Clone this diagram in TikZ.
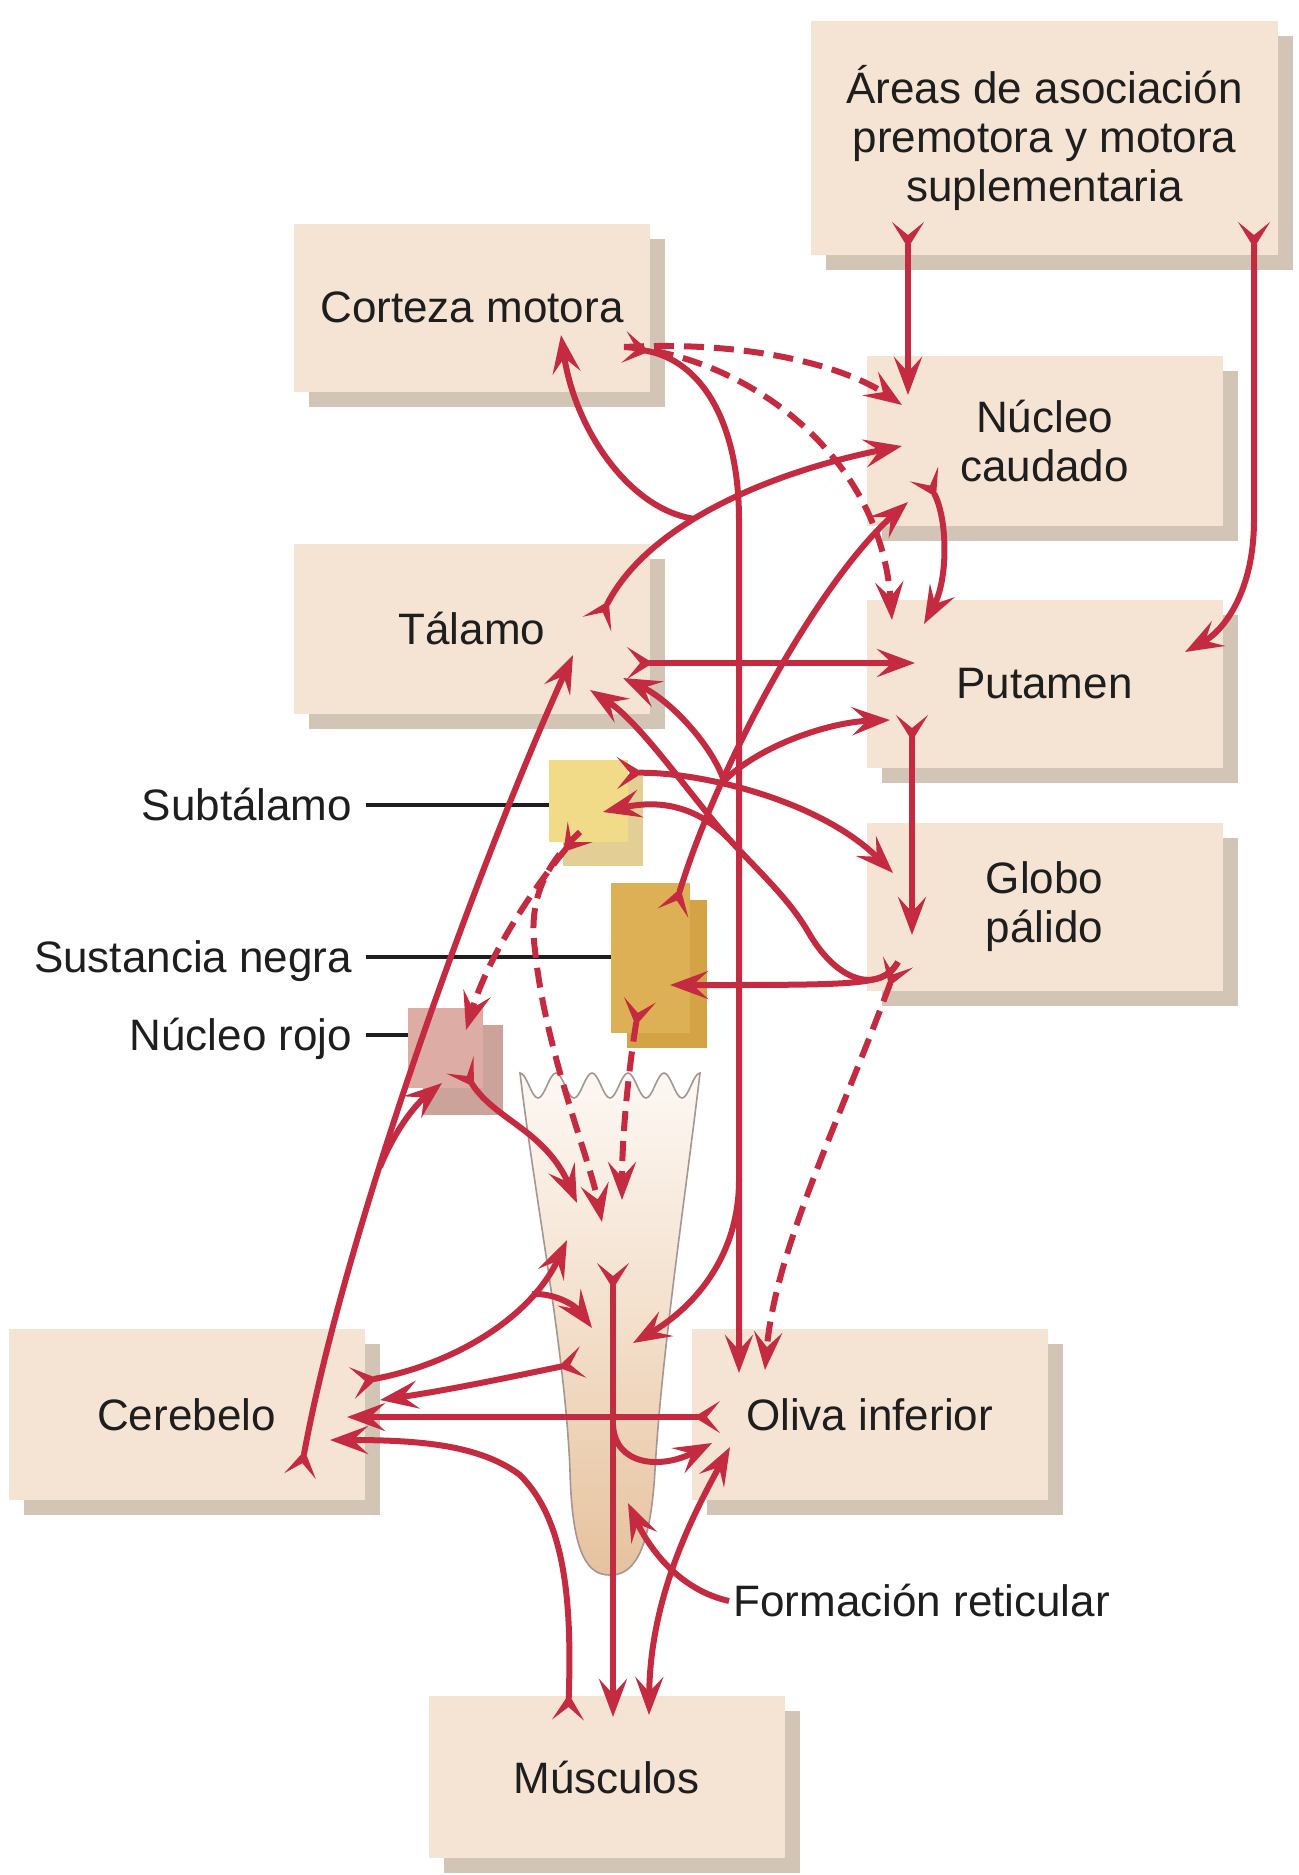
\documentclass[tikz,border=0pt]{standalone}
\usepackage{fontspec}
\setmainfont{Liberation Sans}
\usetikzlibrary{arrows.meta,shadows}
\definecolor{neuro}{HTML}{C52B40}
\definecolor{boxc}{HTML}{F5E4D4}
\definecolor{shadc}{HTML}{D3C5B6}
\definecolor{subtf}{HTML}{F1DA88}
\definecolor{subtb}{HTML}{E3CE96}
\definecolor{snf}{HTML}{DDB055}
\definecolor{snb}{HTML}{D3A346}
\definecolor{nrf}{HTML}{DDADA5}
\definecolor{nrb}{HTML}{CBA39B}
\definecolor{frtop}{HTML}{FDF8F4}
\definecolor{frmid}{HTML}{F3DFCB}
\definecolor{frbot}{HTML}{E6C29E}
\definecolor{frline}{HTML}{A89592}
\definecolor{txt}{HTML}{1E1E1E}
\newcommand\boxfont{\fontsize{22pt}{24.5pt}\selectfont}
\tikzset{
  box/.style={fill=boxc, inner sep=0pt, outer sep=0pt, minimum width=178pt, minimum height=84pt,
    align=center, text=txt, font=\boxfont,
    drop shadow={shadow xshift=7.5pt, shadow yshift=-7.5pt, fill=shadc, opacity=1}},
  sq/.style={inner sep=0pt, outer sep=0pt},
  lbl/.style={text=txt, font=\boxfont, inner sep=0pt, inner xsep=6.5pt, text height=15.8pt, text depth=0pt},
  lead/.style={draw=txt, line width=1.6pt},
  fib/.style={draw=neuro, line width=3pt, -{Stealth[length=19pt,width=14pt,inset=7.5pt]}},
  fibt/.style={fib, {Stealth[reversed,length=13pt,width=16pt,inset=6.5pt]}-{Stealth[length=19pt,width=14pt,inset=7.5pt]}},
  fibb/.style={fib, {Stealth[length=19pt,width=14pt,inset=7.5pt]}-{Stealth[length=19pt,width=14pt,inset=7.5pt]}},
  dsh/.style={dash pattern=on 10pt off 5pt},
}
\begin{document}
\begin{tikzpicture}[x=0.5pt,y=-0.5pt]
\useasboundingbox (0,0) rectangle (1299,1875);

% boxes
\node[box, minimum width=233.5pt, minimum height=117pt] (areas) at (1044.5,138) {Áreas de asociación\\premotora y motora\\suplementaria};
\node[box] (corteza) at (472,307.5) {Corteza motora};
\node[box, minimum height=85pt] (caudado) at (1044.5,441) {Núcleo\\caudado};
\node[box, minimum height=85pt] (talamo) at (472,629) {Tálamo};
\node[box] (putamen) at (1044.5,683.5) {Putamen};
\node[box] (globo) at (1044.5,906.5) {Globo\\pálido};
\node[box, minimum height=85.5pt] (cerebelo) at (186.5,1414.5) {Cerebelo};
\node[box, minimum height=85.5pt] (oliva) at (869.5,1414.5) {Oliva inferior};
\node[box, minimum height=81pt] (musculos) at (606.5,1777) {Músculos};

% brainstem
\draw[draw=frline, line width=0.8pt, top color=frtop, bottom color=frbot, middle color=frmid]
  (520,1073) \foreach \k in {1,...,5} {cos ++(9,12.5) sin ++(9,12.5) cos ++(9,-12.5) sin ++(9,-12.5)}
  .. controls (685,1200) and (662,1350) .. (655,1470) .. controls (650,1560) and (630,1575) .. (610,1575)
  .. controls (590,1575) and (572,1560) .. (570,1470) .. controls (565,1350) and (535,1200) .. (520,1073) -- cycle;

% nuclei
\node[sq, fill=subtb, minimum width=40pt, minimum height=45pt] (subtbk) at (603,821) {};
\node[sq, fill=subtf, minimum width=39.5pt, minimum height=41pt] (subt) at (588.5,801) {};
\node[sq, fill=snb, minimum width=40pt, minimum height=74pt] (snbk) at (667,974) {};
\node[sq, fill=snf, minimum width=39.5pt, minimum height=75pt] (sn) at (650.5,958) {};
\node[sq, fill=nrb, minimum width=40pt, minimum height=45pt] (nrbk) at (463,1070) {};
\node[sq, fill=nrf, minimum width=37.5pt, minimum height=40pt] (nr) at (445.5,1048) {};

% labels
\node[lbl, anchor=east] (lsubt) at (365.5,805) {Subtálamo};
\node[lbl, anchor=east] (lsn) at (365.5,957) {Sustancia negra};
\node[lbl, anchor=east] (lnr) at (365.5,1035) {Núcleo rojo};
\node[lbl, anchor=west, inner xsep=2pt] (lfr) at (729,1601) {Formación reticular};
\draw[lead] (lsubt.east) -- (lsubt.east -| subt.west);
\draw[lead] (lsn.east) -- (lsn.east -| sn.west);
\draw[lead] (lnr.east) -- (lnr.east -| nr.west);

% end points
\coordinate (ar1) at (908,222);   \coordinate (ar2) at (1254,222);
\coordinate (ct0) at (624,347);   \coordinate (ctin) at (561,335);  \coordinate (ctj) at (739,1180);
\coordinate (cdin1) at (908,395); \coordinate (cdin2) at (902,405); \coordinate (cdin3) at (902,446);
\coordinate (cdin4) at (908,502); \coordinate (cd0) at (924,474);
\coordinate (ptin1) at (892,620); \coordinate (ptin2) at (924,624); \coordinate (ptin3) at (915,663);
\coordinate (ptin4) at (890,720); \coordinate (ptin5) at (1185,652); \coordinate (pt0) at (912,715);
\coordinate (gpin1) at (912,935); \coordinate (gpin2) at (893,873); \coordinate (gp0) at (898,962);
\coordinate (gpj) at (728,838);
\coordinate (ta0) at (597,624);   \coordinate (ta1) at (627,663);   \coordinate (tj) at (695,519);
\coordinate (tain1) at (573,655); \coordinate (tain2) at (590,690); \coordinate (tain3) at (623,678);
\coordinate (st0) at (617,773);   \coordinate (st1) at (580,832);   \coordinate (stin) at (603,812);
\coordinate (sn0) at (673,913);   \coordinate (snj) at (724,781);   \coordinate (snin) at (670,985);
\coordinate (sn1) at (640,1000);
\coordinate (nrin1) at (466,1030); \coordinate (nrin2) at (442,1083); \coordinate (nr0) at (460,1065);
\coordinate (frin1) at (577,1203); \coordinate (frin2) at (602,1222); \coordinate (frin3) at (622,1200);
\coordinate (frin4) at (567,1240); \coordinate (frin5) at (592,1328); \coordinate (frin6) at (633,1343);
\coordinate (frin7) at (628,1503); \coordinate (fr0) at (613,1263);  \coordinate (fr1) at (583,1362);
\coordinate (frj) at (613,1425);
\coordinate (olin1) at (739,1373); \coordinate (olin2) at (765,1370); \coordinate (olin3) at (712,1443);
\coordinate (olin4) at (730,1447); \coordinate (ol0) at (720,1417);
\coordinate (ce0) at (352,1383);  \coordinate (ce1) at (300,1476);  \coordinate (cej) at (380,1167);
\coordinate (cbj) at (532,1294);
\coordinate (cein1) at (380,1400); \coordinate (cein2) at (347,1417); \coordinate (cein3) at (330,1440);
\coordinate (muin1) at (613,1717); \coordinate (muin2) at (649,1715); \coordinate (mu0) at (568,1720);

% areas
\draw[fibt] (ar1) -- (cdin1);
\draw[fibt] (ar2) -- (1254,520) .. controls (1254,590) and (1225,630) .. (ptin5);
% corteza
\draw[fibt] (ct0) .. controls (700,360) and (739,420) .. (739,520) -- (olin1);
\draw[fib, dsh] (ct0) .. controls (760,340) and (850,370) .. (cdin2);
\draw[fib, dsh] (ct0) .. controls (740,355) and (880,450) .. (ptin1);
\draw[fib] (ctj) .. controls (739,1260) and (690,1310) .. (frin6);
% talamo
\draw[fibt] (ta0) .. controls (650,520) and (780,470) .. (cdin3);
\draw[fib] (tj) .. controls (630,510) and (575,430) .. (ctin);
\draw[fibt] (ta1) -- (ptin3);
% caudado, putamen
\draw[fibt] (cd0) .. controls (948,520) and (948,580) .. (ptin2);
\draw[fibt] (pt0) -- (gpin1);
% globo palido
\draw[fibt, dsh] (gp0) .. controls (840,1120) and (775,1250) .. (olin2);
\draw[fib] (gp0) .. controls (885,985) and (870,985) .. (snin);
\draw[fib] (gp0) .. controls (880,992) and (840,985) .. (810,935) .. controls (790,900) and (765,878) .. (gpj)
  .. controls (690,795) and (640,722) .. (tain2);
\draw[fib] (gpj) .. controls (700,810) and (665,798) .. (stin);
% subtalamo
\draw[fibt] (st0) .. controls (700,772) and (820,800) .. (gpin2);
\draw[fibt, dsh] (st1) .. controls (540,880) and (490,950) .. (nrin1);
\draw[fib, dsh] (st1) .. controls (545,865) and (528,900) .. (535,950) .. controls (545,1050) and (590,1160) .. (frin2);
% sustancia negra
\draw[fibt] (sn0) .. controls (720,760) and (820,580) .. (cdin4);
\draw[fib] (snj) .. controls (712,745) and (670,700) .. (tain3);
\draw[fib] (snj) .. controls (760,745) and (830,722) .. (ptin4);
\draw[fibt, dsh] (sn1) .. controls (630,1060) and (622,1130) .. (frin3);
% nucleo rojo
\draw[fibt] (nr0) .. controls (495,1120) and (545,1130) .. (frin1);
% cerebelo
\draw[fibt] (ce1) .. controls (345,1230) and (480,860) .. (tain1);
\draw[fib] (cej) .. controls (395,1130) and (415,1105) .. (nrin2);
\draw[fibt] (ce0) .. controls (450,1365) and (530,1320) .. (frin4);
\draw[fib] (cbj) .. controls (555,1293) and (575,1305) .. (frin5);
% formacion reticular
\draw[fibt] (fr1) .. controls (520,1375) and (450,1390) .. (cein1);
\draw[fibt] (fr0) -- (muin1);
\draw[fib] (frj) .. controls (615,1465) and (660,1470) .. (olin3);
\draw[fib] (lfr.west) .. controls (680,1590) and (650,1550) .. (frin7);
% oliva, musculos
\draw[fibt] (ol0) -- (cein2);
\draw[fibb] (muin2) .. controls (650,1600) and (690,1520) .. (olin4);
\draw[fibt] (mu0) .. controls (572,1600) and (565,1520) .. (520,1475) .. controls (480,1445) and (420,1440) .. (cein3);
\end{tikzpicture}
\end{document}
